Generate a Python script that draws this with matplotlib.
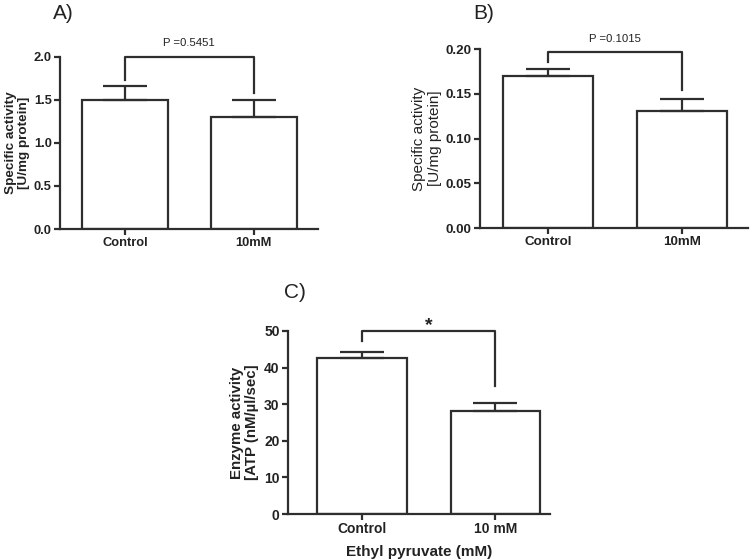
import numpy as np
import matplotlib
matplotlib.use('Agg')
import matplotlib.pyplot as plt

plt.rcParams['font.family'] = ['Liberation Sans', 'DejaVu Sans']

# datos
grupos_ab = ['Control', '10mM']
grupos_c = ['Control', '10 mM']

media_a = [1.50, 1.30]
err_a = [0.16, 0.20]
media_b = [0.170, 0.131]
err_b = [0.008, 0.013]
media_c = [42.5, 28.1]
err_c = [1.7, 2.1]

p_a = 'P =0.5451'
p_b = 'P =0.1015'
p_c = '*'

COLOR = '#2e2e2e'
LW = 1.6


def panel(fig, rect, grupos, medias, errores, yticks, fmt, ylim, xlim,
          ylabel, ylabel_kw, letra, letra_xy, tick_size, texto_p, p_kw,
          p_off, corchete, ylabel_x):
    ax = fig.add_axes(rect)
    x = np.arange(len(grupos))
    ax.bar(x, medias, width=0.67, color='white', edgecolor=COLOR,
           linewidth=LW, zorder=2)
    ax.errorbar(x, medias, yerr=[np.zeros(len(x)), errores], fmt='none',
                ecolor=COLOR, elinewidth=LW, capsize=16, capthick=LW, zorder=3)
    ax.set_xlim(*xlim)
    ax.set_ylim(*ylim)
    ax.set_yticks(yticks)
    ax.set_yticklabels([fmt.format(v) for v in yticks], fontweight='bold')
    ax.set_xticks(x)
    ax.set_xticklabels(grupos, fontweight='bold')
    ax.tick_params(direction='out', length=4.5, width=LW, color=COLOR,
                   labelsize=tick_size, pad=1.5, labelcolor='#222222')
    for lado in ['top', 'right']:
        ax.spines[lado].set_visible(False)
    for lado in ['left', 'bottom']:
        ax.spines[lado].set_linewidth(LW)
        ax.spines[lado].set_color(COLOR)
    ax.text(ylabel_x, 0.5, ylabel, transform=ax.transAxes, rotation=90,
            ha='center', va='center', multialignment='center',
            color='#222222', linespacing=1.1, **ylabel_kw)

    # corchete de significancia
    y_top, y_izq, y_der = corchete
    ax.plot([0, 0, 1, 1], [y_izq, y_top, y_top, y_der], color=COLOR,
            linewidth=LW, clip_on=False, zorder=4)
    ax.annotate(texto_p, xy=(0.5, y_top), xytext=(0, p_off),
                textcoords='offset points', ha='center', va='baseline',
                color='#222222', annotation_clip=False, **p_kw)

    fig.text(letra_xy[0], letra_xy[1], letra, ha='center', va='center',
             fontsize=15, fontweight='light', color='#222222')
    return ax


fig = plt.figure(figsize=(7.5, 5.59), dpi=100)

panel(fig, [0.080, 0.5903, 0.344, 0.3083], grupos_ab, media_a, err_a,
      [0, 0.5, 1.0, 1.5, 2.0], '{:.1f}', (0, 2.0), (-0.504, 1.50),
      'Specific activity\n[U/mg protein]',
      dict(fontsize=9.7, fontweight='bold'), 'A)', (0.084, 0.975), 9.3,
      p_a, dict(fontsize=8.2), 8, (2.0, 1.73, 1.58), -0.165)

panel(fig, [0.640, 0.5921, 0.357, 0.3202], grupos_ab, media_b, err_b,
      [0, 0.05, 0.10, 0.15, 0.20], '{:.2f}', (0, 0.20), (-0.507, 1.49),
      'Specific activity\n[U/mg protein]',
      dict(fontsize=11), 'B)', (0.645, 0.975), 9.6,
      p_b, dict(fontsize=8.2), 7.2, (0.197, 0.186, 0.154), -0.198)

ax_c = panel(fig, [0.384, 0.0805, 0.349, 0.3274], grupos_c, media_c, err_c,
             [0, 10, 20, 30, 40, 50], '{:.0f}', (0, 50), (-0.556, 1.41),
             'Enzyme activity\n[ATP (nM/µl/sec]',
             dict(fontsize=10.8, fontweight='bold'), 'C)', (0.393, 0.476), 10,
             p_c, dict(fontsize=14, fontweight='bold'), 0.5, (50, 47.3, 35.0),
             -0.165)
ax_c.set_xlabel('Ethyl pyruvate (mM)', fontsize=11, fontweight='bold',
                color='#222222', labelpad=6)

fig.savefig('out.png', dpi=100)
